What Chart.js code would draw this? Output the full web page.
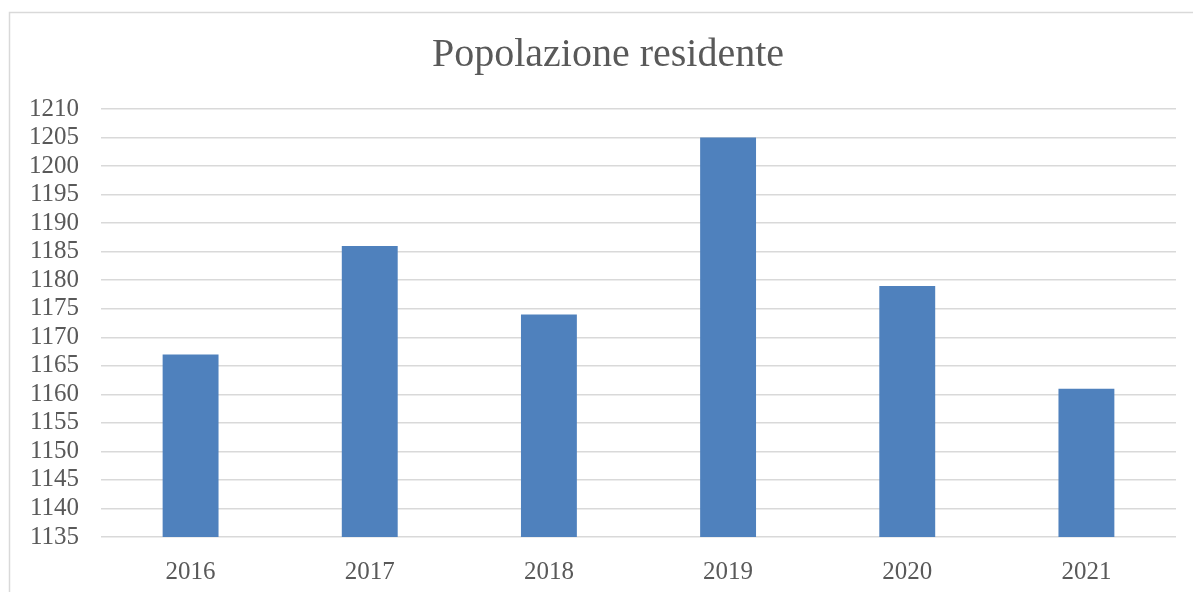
<!DOCTYPE html>
<html>
<head>
<meta charset="utf-8">
<script src="https://cdn.jsdelivr.net/npm/chart.js@4/dist/chart.umd.min.js"></script>
<style>
html,body{margin:0;padding:0;background:#fff;}
#wrap{position:relative;width:1193px;height:592px;}
</style>
</head>
<body>
<div id="wrap"><canvas id="c" width="1193" height="592"></canvas></div>
<script>
const categories = ["2016", "2017", "2018", "2019", "2020", "2021"];
const populationValues = [1167, 1186, 1174, 1205, 1179, 1161];
const titleText = "Popolazione residente";
const yMin = 1135, yMax = 1210, yStep = 5;

const frame = {
  id: 'frame',
  afterLayout(chart) {
    if (chart.titleBlock) { chart.titleBlock.left = 23; chart.titleBlock.right = 1193; }
  },
  beforeDraw(chart) {
    const ctx = chart.ctx;
    ctx.save();
    ctx.fillStyle = '#ffffff';
    ctx.fillRect(0, 0, chart.width, chart.height);
    ctx.strokeStyle = '#d9d9d9';
    ctx.lineWidth = 1.5;
    ctx.strokeRect(9.5, 12.5, 1300, 700);
    ctx.restore();
  }
};

new Chart(document.getElementById('c'), {
  type: 'bar',
  data: {
    labels: categories,
    datasets: [{
      label: titleText,
      data: populationValues,
      backgroundColor: '#4f81bd',
      borderWidth: 0,
      barPercentage: 0.312,
      categoryPercentage: 1.0
    }]
  },
  options: {
    responsive: false,
    animation: false,
    devicePixelRatio: 1,
    layout: { padding: { left: 0, right: 17, top: 0, bottom: 0 } },
    plugins: {
      legend: { display: false },
      tooltip: { enabled: false },
      title: {
        display: true,
        text: titleText,
        color: '#595959',
        font: { family: 'Liberation Serif', size: 40, weight: 'normal', lineHeight: 1.2 },
        padding: { top: 31, bottom: 30 }
      }
    },
    scales: {
      x: {
        grid: { display: false, drawTicks: false },
        border: { display: false },
        ticks: {
          color: '#595959',
          font: { family: 'Liberation Serif', size: 25 },
          padding: 20,
          maxRotation: 0
        },
        afterFit(scale) { scale.height = 55; }
      },
      y: {
        min: yMin,
        max: yMax,
        grid: { color: '#d9d9d9', lineWidth: 1.5, drawTicks: false },
        border: { display: false },
        ticks: {
          stepSize: yStep,
          autoSkip: false,
          color: '#595959',
          font: { family: 'Liberation Serif', size: 25 },
          padding: 22,
          callback: (v) => String(v)
        },
        afterFit(scale) { scale.width = 101; }
      }
    }
  },
  plugins: [frame]
});
</script>
</body>
</html>
